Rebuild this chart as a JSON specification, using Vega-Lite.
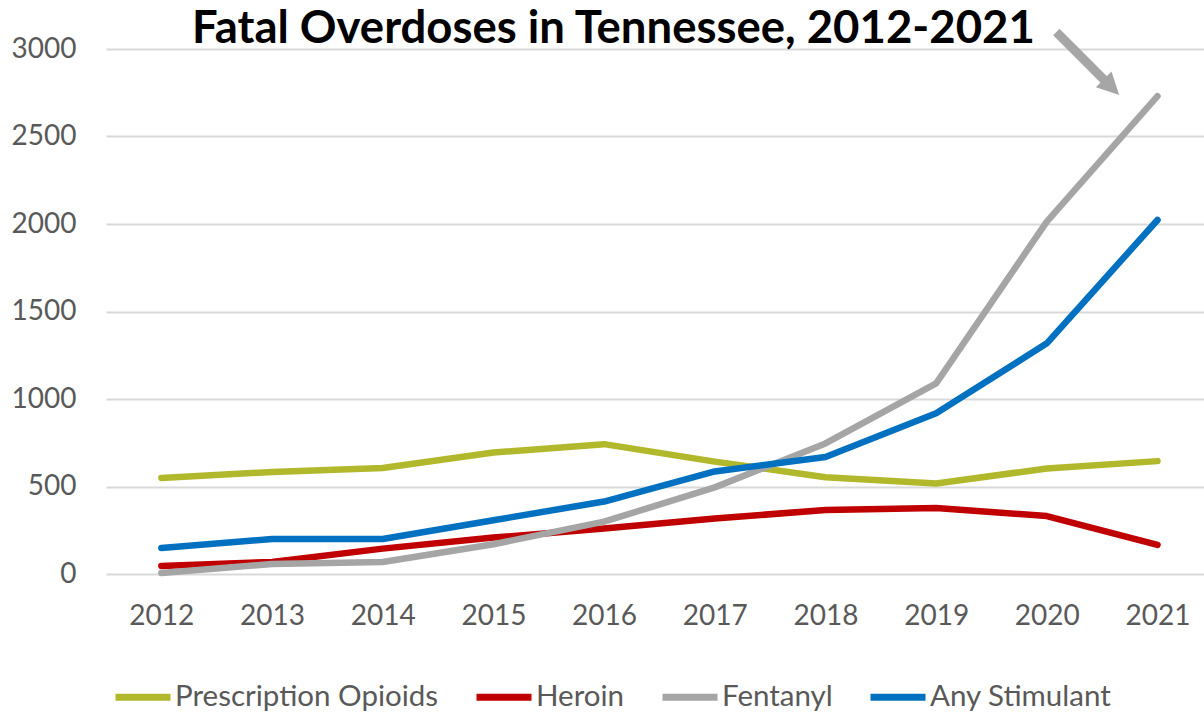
{
  "$schema": "https://vega.github.io/schema/vega-lite/v6.json",
  "width": 1098,
  "height": 525,
  "autosize": "none",
  "padding": {"left": 106, "top": 49, "right": 0, "bottom": 139},
  "background": "white",
  "title": {
    "text": "Fatal Overdoses in Tennessee, 2012-2021",
    "anchor": "start",
    "frame": "group",
    "dx": 86,
    "font": "Lato",
    "fontSize": 45.5,
    "fontWeight": "bold",
    "color": "#000000",
    "offset": -25
  },
  "config": {"view": {"stroke": null}, "font": "Lato"},
  "datasets": {
    "od": [
      {"year": 2012, "series": "Prescription Opioids", "value": 549},
      {"year": 2013, "series": "Prescription Opioids", "value": 583},
      {"year": 2014, "series": "Prescription Opioids", "value": 606},
      {"year": 2015, "series": "Prescription Opioids", "value": 694},
      {"year": 2016, "series": "Prescription Opioids", "value": 742},
      {"year": 2017, "series": "Prescription Opioids", "value": 642},
      {"year": 2018, "series": "Prescription Opioids", "value": 553},
      {"year": 2019, "series": "Prescription Opioids", "value": 517},
      {"year": 2020, "series": "Prescription Opioids", "value": 603},
      {"year": 2021, "series": "Prescription Opioids", "value": 645},
      {"year": 2012, "series": "Heroin", "value": 46},
      {"year": 2013, "series": "Heroin", "value": 69},
      {"year": 2014, "series": "Heroin", "value": 145},
      {"year": 2015, "series": "Heroin", "value": 208},
      {"year": 2016, "series": "Heroin", "value": 260},
      {"year": 2017, "series": "Heroin", "value": 317},
      {"year": 2018, "series": "Heroin", "value": 366},
      {"year": 2019, "series": "Heroin", "value": 377},
      {"year": 2020, "series": "Heroin", "value": 331},
      {"year": 2021, "series": "Heroin", "value": 166},
      {"year": 2012, "series": "Fentanyl", "value": 6},
      {"year": 2013, "series": "Fentanyl", "value": 57},
      {"year": 2014, "series": "Fentanyl", "value": 69},
      {"year": 2015, "series": "Fentanyl", "value": 170},
      {"year": 2016, "series": "Fentanyl", "value": 299},
      {"year": 2017, "series": "Fentanyl", "value": 495},
      {"year": 2018, "series": "Fentanyl", "value": 746},
      {"year": 2019, "series": "Fentanyl", "value": 1089},
      {"year": 2020, "series": "Fentanyl", "value": 2014},
      {"year": 2021, "series": "Fentanyl", "value": 2731},
      {"year": 2012, "series": "Any Stimulant", "value": 149},
      {"year": 2013, "series": "Any Stimulant", "value": 200},
      {"year": 2014, "series": "Any Stimulant", "value": 200},
      {"year": 2015, "series": "Any Stimulant", "value": 307},
      {"year": 2016, "series": "Any Stimulant", "value": 414},
      {"year": 2017, "series": "Any Stimulant", "value": 586},
      {"year": 2018, "series": "Any Stimulant", "value": 669},
      {"year": 2019, "series": "Any Stimulant", "value": 918},
      {"year": 2020, "series": "Any Stimulant", "value": 1318},
      {"year": 2021, "series": "Any Stimulant", "value": 2023}
    ],
    "arrow": [
      {"xa": 2020.086, "ya": 3097, "xb": 2020.528, "yb": 2817, "xh": 2020.584, "yh": 2782}
    ]
  },
  "layer": [
    {
      "data": {"name": "od"},
      "mark": {"type": "line", "strokeWidth": 6.5, "strokeCap": "round", "strokeJoin": "round"},
      "encoding": {
        "x": {
          "field": "year",
          "type": "quantitative",
          "scale": {"domain": [2011.5, 2021.42], "nice": false, "zero": false},
          "axis": {
            "values": [2012, 2013, 2014, 2015, 2016, 2017, 2018, 2019, 2020, 2021],
            "format": "d",
            "ticks": false,
            "domain": false,
            "grid": false,
            "labelFontSize": 28,
            "labelColor": "#595959",
            "labelPadding": 28,
            "labelFlush": false,
            "labelOverlap": false,
            "title": null
          }
        },
        "y": {
          "field": "value",
          "type": "quantitative",
          "scale": {"domain": [0, 3000], "nice": false},
          "axis": {
            "values": [0, 500, 1000, 1500, 2000, 2500, 3000],
            "format": "d",
            "grid": true,
            "gridColor": "#d9d9d9",
            "gridWidth": 2,
            "ticks": false,
            "domain": false,
            "labelFontSize": 28,
            "labelColor": "#595959",
            "labelPadding": 30,
            "title": null
          }
        },
        "color": {
          "field": "series",
          "type": "nominal",
          "scale": {
            "domain": ["Prescription Opioids", "Heroin", "Fentanyl", "Any Stimulant"],
            "range": ["#B2B82B", "#C00000", "#A5A5A5", "#0070C0"]
          },
          "legend": {
            "orient": "none",
            "legendX": 6,
            "legendY": 617,
            "direction": "horizontal",
            "columns": 4,
            "title": null,
            "symbolType": "stroke",
            "symbolSize": 3025,
            "symbolStrokeWidth": 7,
            "labelFontSize": 29.5,
            "labelColor": "#595959",
            "labelOffset": 1,
            "columnPadding": 23,
            "labelLimit": 400
          }
        }
      }
    },
    {
      "data": {"name": "arrow"},
      "mark": {"type": "rule", "strokeWidth": 9, "color": "#A6A6A6"},
      "encoding": {
        "x": {"field": "xa", "type": "quantitative", "scale": {"domain": [2011.5, 2021.42], "nice": false, "zero": false}},
        "x2": {"field": "xb"},
        "y": {"field": "ya", "type": "quantitative", "scale": {"domain": [0, 3000], "nice": false}},
        "y2": {"field": "yb"}
      }
    },
    {
      "data": {"name": "arrow"},
      "mark": {"type": "point", "shape": "M1,0 L-1,-1 L-1,1 Z", "filled": true, "size": 484, "angle": 45, "color": "#A6A6A6", "opacity": 1},
      "encoding": {
        "x": {"field": "xh", "type": "quantitative", "scale": {"domain": [2011.5, 2021.42], "nice": false, "zero": false}},
        "y": {"field": "yh", "type": "quantitative", "scale": {"domain": [0, 3000], "nice": false}}
      }
    }
  ]
}
